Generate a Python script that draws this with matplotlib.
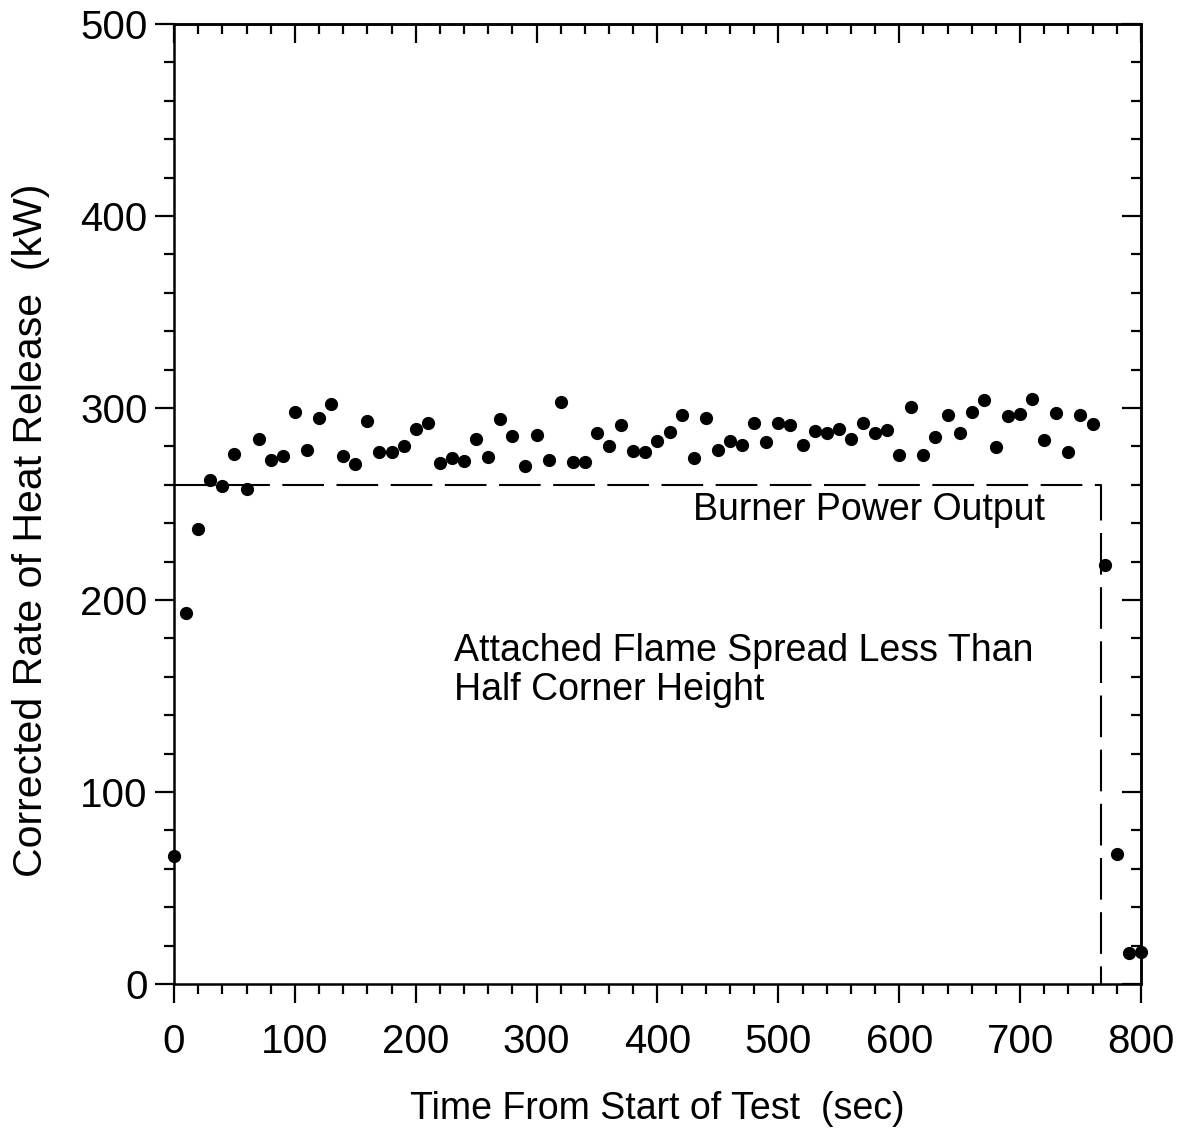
import numpy as np
import matplotlib
matplotlib.use("Agg")
import matplotlib.pyplot as plt
from matplotlib.ticker import MultipleLocator

# Data (time in s, corrected HRR in kW)
time_s = list(range(0, 801, 10))
hrr_kw = [66.7, 193, 237, 262.5, 259.5, 276, 258, 284, 273, 275,
          298, 278, 295, 302, 275, 271, 293, 277, 277, 280,
          289, 292, 271.5, 274, 272.5, 284, 274.5, 294.5, 285.5, 270,
          286, 273, 303, 272, 272, 287, 280, 291, 277.5, 277,
          283, 287.5, 296.5, 274, 295, 278, 283, 280.5, 292, 282.5,
          292, 291, 280.5, 288, 287, 289, 284, 292, 287, 288.5,
          275.5, 300.5, 275.5, 285, 296.5, 287, 298, 304, 279.5, 296,
          297, 304.5, 283.5, 297.5, 277, 296.5, 291.5, 218, 67.5, 16,
          16.5]

burner_t = [0, 767, 767]
burner_kw = [260, 260, 0]

x_ticks = [0, 100, 200, 300, 400, 500, 600, 700, 800]
y_ticks = [0, 100, 200, 300, 400, 500]

plt.rcParams['font.family'] = ['Liberation Sans', 'DejaVu Sans']

fig = plt.figure(figsize=(11.86, 11.32), dpi=100)
ax = fig.add_axes([0.1467, 0.1307, 0.8153, 0.8481])

ax.plot(burner_t, burner_kw, color='black', lw=1.5, dashes=(20, 6))
ax.plot(time_s, hrr_kw, 'o', color='black', ms=8.5, clip_on=False, zorder=5)

ax.set_xlim(0, 800)
ax.set_ylim(0, 500)
ax.set_xticks(x_ticks)
ax.set_yticks(y_ticks)
ax.xaxis.set_minor_locator(MultipleLocator(20))
ax.yaxis.set_minor_locator(MultipleLocator(20))

for s in ax.spines.values():
    s.set_linewidth(1.8)

ax.tick_params(axis='both', which='major', direction='out', length=14, width=1.6,
               labelsize=29, top=False, right=False)
ax.tick_params(axis='both', which='minor', direction='out', length=7.5, width=1.6,
               top=False, right=False)
ax.tick_params(axis='x', which='major', pad=14)
ax.tick_params(axis='y', which='major', pad=5)

# mirrored inward ticks on top and right
axt = ax.secondary_xaxis('top')
axt.set_xticks(x_ticks)
axt.xaxis.set_minor_locator(MultipleLocator(20))
axt.tick_params(which='major', direction='in', length=14, width=1.6, labeltop=False)
axt.tick_params(which='minor', direction='in', length=7.5, width=1.6)
axt.spines['top'].set_linewidth(1.8)
axr = ax.secondary_yaxis('right')
axr.set_yticks(y_ticks)
axr.yaxis.set_minor_locator(MultipleLocator(20))
axr.tick_params(which='major', direction='in', length=14, width=1.6, labelright=False)
axr.tick_params(which='minor', direction='in', length=7.5, width=1.6)
axr.spines['right'].set_linewidth(1.8)

ax.set_xlabel('Time From Start of Test  (sec)', fontsize=27, labelpad=22)
ax.set_ylabel('Corrected Rate of Heat Release  (kW)', fontsize=29.5)
ax.yaxis.set_label_coords(-0.128, 0.473)

ax.text(429, 247, 'Burner Power Output', fontsize=27, ha='left', va='center')
ax.text(232, 163.5, 'Attached Flame Spread Less Than\nHalf Corner Height',
        fontsize=27, ha='left', va='center', linespacing=1.1)

fig.savefig('out.png', dpi=100)
